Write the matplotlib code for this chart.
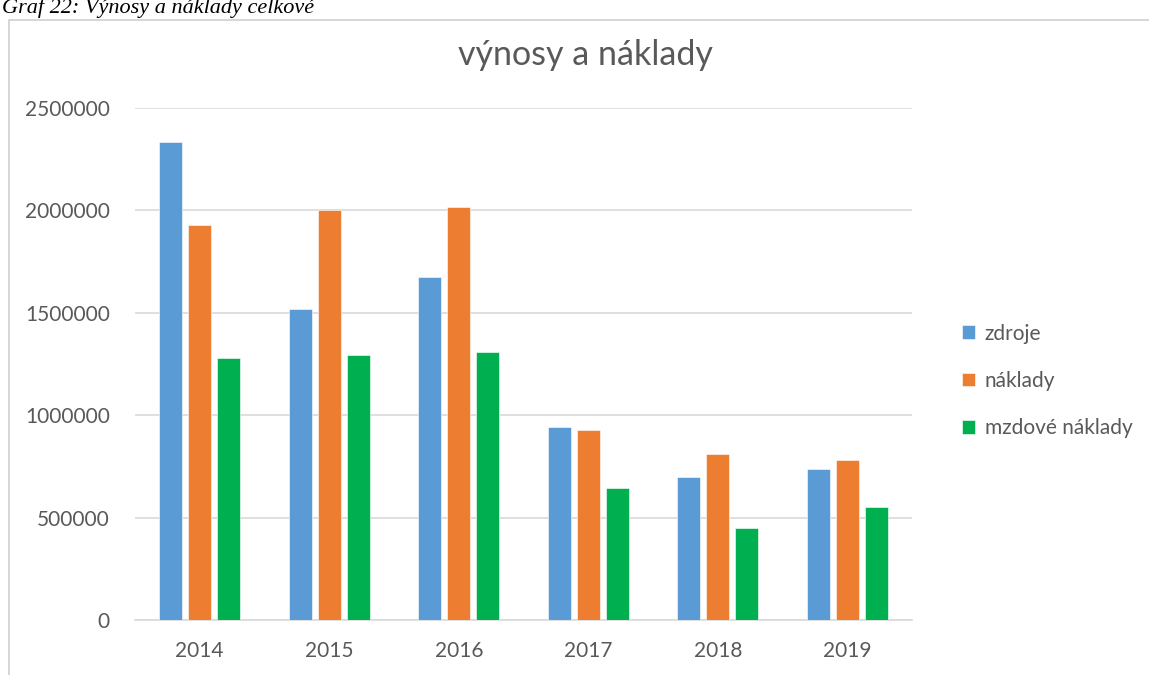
import matplotlib
matplotlib.use("Agg")
import matplotlib.pyplot as plt
from matplotlib.patches import Rectangle
import numpy as np

years = ["2014", "2015", "2016", "2017", "2018", "2019"]
zdroje = [2334000, 1517000, 1675000, 942000, 698000, 737000]
naklady = [1929000, 2002000, 2017000, 928000, 809000, 781000]
mzdove = [1277000, 1294000, 1309000, 645000, 449000, 550000]
series_names = ["zdroje", "náklady", "mzdové náklady"]
colors = ["#5B9BD5", "#ED7D31", "#00B050"]

plt.rcParams['font.family'] = ['Lato', 'DejaVu Sans']

W, H = 1149, 675
fig = plt.figure(figsize=(W/100, H/100), dpi=100)

# chart frame (open at right and bottom edges)
fig.patches.append(Rectangle((9/W, -0.05), (W+10)/W, 1.05-20/H, transform=fig.transFigure,
                             fill=False, edgecolor="#D0D0D0", linewidth=1.2))

# caption
fig.text(2/W, 1-13/H, "Graf 22: Výnosy a náklady celkové", family="Liberation Serif",
         style="italic", fontsize=16, va="baseline", ha="left", color="black")

left, right, top, bottom = 135, 912, 108, 620
ax = fig.add_axes([left/W, 1-bottom/H, (right-left)/W, (bottom-top)/H])

x = np.arange(len(years))
width = 0.177
step = 0.223
for i, (vals, name, c) in enumerate(zip([zdroje, naklady, mzdove], series_names, colors)):
    ax.bar(x + (i-1)*step, vals, width, color=c, label=name, zorder=3,
           edgecolor="white", linewidth=0.4)

ax.set_xlim(-0.5, len(years)-0.5)
ax.set_ylim(0, 2500000)
ax.set_yticks(np.arange(0, 2500001, 500000))
ax.set_yticklabels([f"{int(v)}" for v in np.arange(0, 2500001, 500000)])
ax.set_xticks(x)
ax.set_xticklabels(years)
ax.grid(axis="y", color="#D9D9D9", linewidth=1.2, zorder=0)
for s in ["top", "right", "left"]:
    ax.spines[s].set_visible(False)
ax.spines["bottom"].set_color("#D9D9D9")
ax.spines["bottom"].set_linewidth(1.2)
ax.tick_params(axis="both", length=0, labelsize=15, colors="#595959")
ax.tick_params(axis="x", pad=15)
ax.tick_params(axis="y", pad=18)

fig.text(585/W, 1-55/H, "výnosy a náklady", ha="center", va="center",
         fontsize=24.5, color="#595959")

leg = fig.legend(loc="upper left", bbox_to_anchor=(943/W, 1-305/H), frameon=False,
                 fontsize=15, handlelength=0.65, handleheight=0.65, handletextpad=0.45,
                 labelspacing=1.3, labelcolor="#595959")

fig.savefig("out.png", dpi=100)
